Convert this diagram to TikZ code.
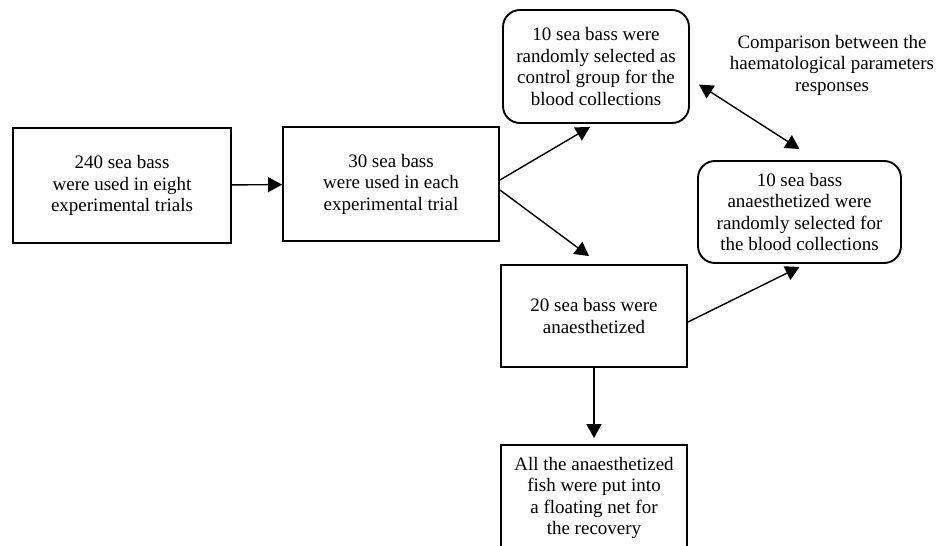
\documentclass[tikz,border=0pt]{standalone}
\usepackage{fontspec}
\setmainfont{Liberation Serif}
\usepackage{xcolor}
\definecolor{ink}{RGB}{0,0,0}
\usetikzlibrary{arrows.meta,positioning,calc}
\tikzset{
  %% boxes of the flow chart
  plainbox/.style={draw=ink, line width=1.9pt, align=center, inner sep=2pt,
                   font=\fontsize{19}{21.5}\selectfont},
  roundbox/.style={plainbox, rounded corners=17pt},
  %% connectors
  flow/.style={draw=ink, line width=1.4pt, -{Triangle[length=14pt,width=15pt]}},
  twoway/.style={flow, {Triangle[length=14pt,width=15pt]}-{Triangle[length=14pt,width=15pt]}},
}

\begin{document}
\begin{tikzpicture}[x=1pt,y=-1pt]
\clip (0,0) rectangle (937,546);
\node[plainbox,minimum width=218pt,minimum height=115pt] (total) at (122,185.5)
  {240 sea bass\\were used in eight\\experimental trials};
\node[plainbox,minimum width=216pt,minimum height=114pt] (trial) at (391,184)
  {30 sea bass\\were used in each\\experimental trial};
\node[roundbox,minimum width=186pt,minimum height=113pt] (control) at (596,66.5)
  {10 sea bass were\\randomly selected as\\control group for the\\blood collections};
\node[plainbox,minimum width=186pt,minimum height=102pt] (anaes) at (594,316)
  {20 sea bass were\\anaesthetized};
\node[roundbox,minimum width=203pt,minimum height=102pt] (sample) at (799.5,212)
  {10 sea bass\\anaesthetized were\\randomly selected for\\the blood collections};
\node[plainbox,minimum width=186pt,minimum height=106pt] (recover) at (594,498)
  {All the anaesthetized\\fish were put into\\a floating net for\\the recovery};
\node[align=center,font=\fontsize{19}{21.5}\selectfont] (compare) at (832,65)
  {Comparison between the\\haematological parameters\\responses};

\draw[flow] (total) -- (trial);
\draw[flow] ([yshift=4pt]trial.east) -- ([xshift=-6pt,yshift=-3pt]control.south);
\draw[flow] ([yshift=-6pt]trial.east) -- ([xshift=-5pt,yshift=8pt]anaes.north);
\draw[flow] ([yshift=-6pt]anaes.east) -- ([yshift=-3pt]sample.south);
\draw[flow] (anaes) -- ([yshift=6pt]recover.north);
\draw[twoway] ([xshift=9pt,yshift=-18pt]control.east) -- ([yshift=11pt]sample.north);
\end{tikzpicture}
\end{document}
